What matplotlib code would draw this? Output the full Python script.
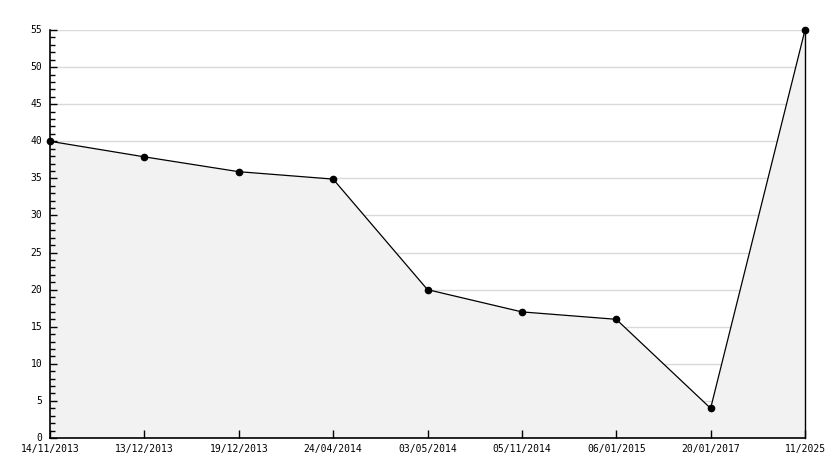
import numpy as np
import matplotlib as mpl
mpl.use('agg')
import matplotlib.pyplot as plt
from matplotlib.ticker import MultipleLocator

font = {'family': 'DejaVu Sans Mono',
        'size': 7}
mpl.rc('font', **font)

dates = ["14/11/2013", "13/12/2013", "19/12/2013", "24/04/2014", "03/05/2014",
         "05/11/2014", "06/01/2015", "20/01/2017", "11/2025"]
values = [40, 37.9, 35.9, 34.9, 20, 17, 16, 4, 55]

x = np.arange(len(dates))

fig = plt.figure(figsize=(8.34, 4.68), dpi=100)
ax = fig.add_axes([50 / 834, 30 / 468, 755 / 834, 408 / 468])

ax.set_xlim(x[0], x[-1])
ax.set_ylim(0, 55)
ax.set_xticks(x)
ax.set_xticklabels(dates)
ax.yaxis.set_major_locator(MultipleLocator(5))
ax.yaxis.set_minor_locator(MultipleLocator(1))

# grid under the filled area
for yv in ax.get_yticks()[1:]:
    ax.axhline(yv, color='#d9d9d9', linewidth=1, zorder=0.5)

ax.fill_between(x, 0, values, color='#f2f2f2', zorder=1, linewidth=0)
ax.plot(x, values, color='black', linewidth=0.9, zorder=3, clip_on=False)
ax.plot(x, values, linestyle='none', marker='o', markersize=4.5, color='black', zorder=4,
        clip_on=False)
# right edge of the filled area
ax.plot([x[-1], x[-1]], [0, values[-1]], color='black', linewidth=1.0, zorder=3, clip_on=False)

ax.tick_params(axis='x', direction='in', length=6, width=1, pad=4, colors='black')
ax.tick_params(axis='y', which='major', direction='in', length=5, width=1, pad=5.5)
ax.tick_params(axis='y', which='minor', direction='in', length=3.5, width=1)
for lab in ax.get_yticklabels():
    lab.set_verticalalignment('center')

for s in ['top', 'right']:
    ax.spines[s].set_visible(False)
for s in ['left', 'bottom']:
    ax.spines[s].set_linewidth(1.2)
    ax.spines[s].set_zorder(5)

fig.savefig("out.png", dpi=100)
